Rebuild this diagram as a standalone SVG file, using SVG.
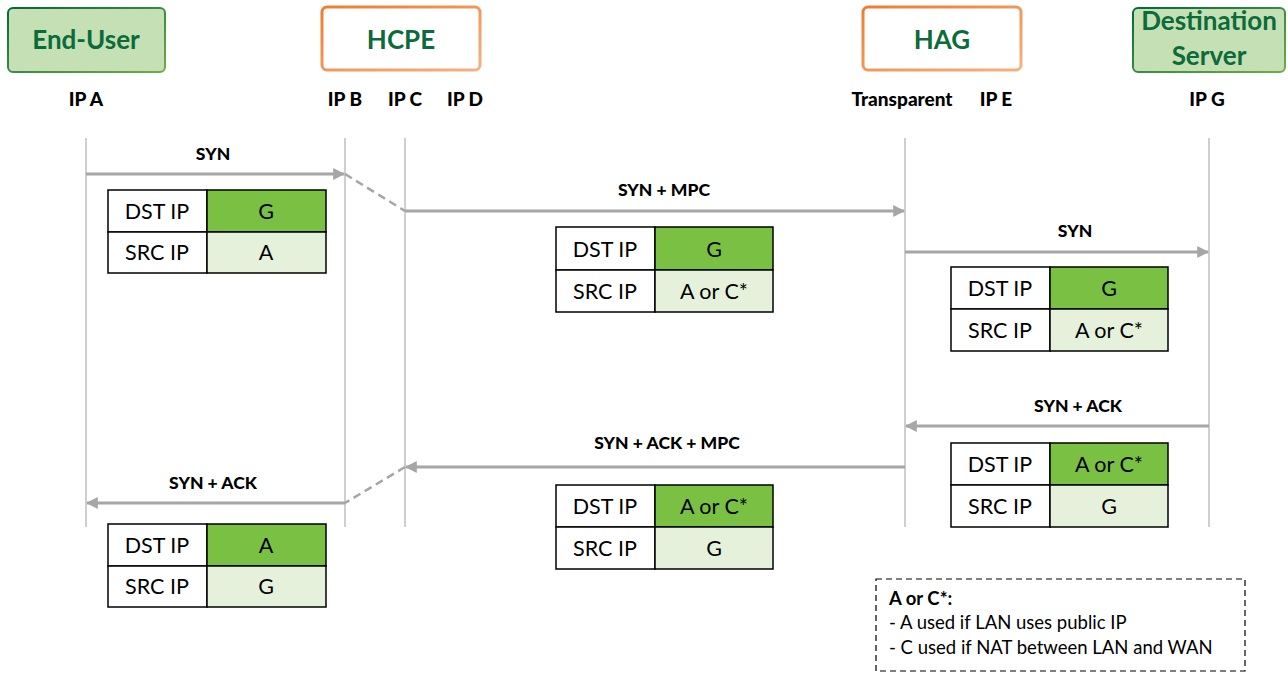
<svg xmlns="http://www.w3.org/2000/svg" width="1288" height="673" viewBox="0 0 1288 673">
  <defs>
    <linearGradient id="greenEdge" x1="0" y1="0" x2="1" y2="1">
      <stop offset="0" stop-color="#006a3a"/>
      <stop offset="1" stop-color="#70ad47"/>
    </linearGradient>
    <linearGradient id="orangeEdge" x1="0" y1="0" x2="1" y2="1">
      <stop offset="0" stop-color="#ed7d31"/>
      <stop offset="1" stop-color="#f4b183"/>
    </linearGradient>
    <marker id="arrow" viewBox="0 0 10 10" refX="9" refY="5" markerWidth="4" markerHeight="4" orient="auto-start-reverse" markerUnits="strokeWidth">
      <path d="M0,0 L10,5 L0,10 z" fill="#a6a6a6"/>
    </marker>
    <style>
      .node-green { fill: #c5e0b4; stroke: url(#greenEdge); stroke-width: 2; }
      .node-orange { fill: #ffffff; stroke: url(#orangeEdge); stroke-width: 3; }
      .title { font-family: Lato, "Liberation Sans", sans-serif; font-weight: bold; font-size: 26px; fill: #0b6b3a; text-anchor: middle; }
      .ip { font-family: Lato, "Liberation Sans", sans-serif; font-weight: 900; font-size: 19px; fill: #000; text-anchor: middle; }
      .life { stroke: #bfbfbf; stroke-width: 1.5; fill: none; }
      .msg { stroke: #a6a6a6; stroke-width: 3; fill: none; }
      .dash { stroke: #a6a6a6; stroke-width: 2.5; stroke-dasharray: 8 5; fill: none; }
      .lbl { font-family: Lato, "Liberation Sans", sans-serif; font-weight: 900; font-size: 17.5px; fill: #000; text-anchor: middle; }
      .cell { stroke: #000; stroke-width: 1.5; }
      .key { fill: #ffffff; }
      .dst { fill: #7ac143; }
      .src { fill: #e6f1dc; }
      .ct { font-family: Lato, "Liberation Sans", sans-serif; font-size: 21.5px; fill: #000; text-anchor: middle; }
      .legend { fill: #fff; stroke: #000; stroke-width: 1.2; stroke-dasharray: 6 4; }
      .lt { font-family: Lato, "Liberation Sans", sans-serif; font-size: 18.5px; fill: #000; }
    </style>
  </defs>

  <!-- participants -->
  <g id="end-user">
    <rect class="node-green" x="8" y="8" width="157" height="64" rx="5"/>
    <text class="title" x="86" y="49">End-User</text>
    <text class="ip" x="86" y="106">IP A</text>
  </g>
  <g id="hcpe">
    <rect class="node-orange" x="322" y="7" width="158" height="63" rx="5"/>
    <text class="title" x="401" y="49">HCPE</text>
    <text class="ip" x="345" y="106">IP B</text>
    <text class="ip" x="405" y="106">IP C</text>
    <text class="ip" x="465" y="106">IP D</text>
  </g>
  <g id="hag">
    <rect class="node-orange" x="863" y="7" width="158" height="63" rx="5"/>
    <text class="title" x="942" y="49">HAG</text>
    <text class="ip" x="902" y="106">Transparent</text>
    <text class="ip" x="996" y="106">IP E</text>
  </g>
  <g id="destination-server">
    <rect class="node-green" x="1133" y="8" width="152" height="64" rx="5"/>
    <text class="title" x="1209" y="30">Destination</text>
    <text class="title" x="1209" y="65">Server</text>
    <text class="ip" x="1207" y="106">IP G</text>
  </g>

  <!-- lifelines -->
  <g id="lifelines">
    <line class="life" x1="86" y1="138" x2="86" y2="527"/>
    <line class="life" x1="345" y1="138" x2="345" y2="527"/>
    <line class="life" x1="405" y1="138" x2="405" y2="527"/>
    <line class="life" x1="905" y1="138" x2="905" y2="527"/>
    <line class="life" x1="1209" y1="138" x2="1209" y2="527"/>
  </g>

  <!-- messages -->
  <g id="connectors">
    <line class="msg" x1="86" y1="174" x2="344" y2="174" marker-end="url(#arrow)"/>
    <line class="dash" x1="345" y1="174" x2="405" y2="211"/>
    <line class="msg" x1="405" y1="211" x2="904" y2="211" marker-end="url(#arrow)"/>
    <line class="msg" x1="905" y1="252" x2="1208" y2="252" marker-end="url(#arrow)"/>
    <line class="msg" x1="1209" y1="426" x2="906" y2="426" marker-end="url(#arrow)"/>
    <line class="msg" x1="905" y1="467" x2="406" y2="467" marker-end="url(#arrow)"/>
    <line class="dash" x1="405" y1="467" x2="345" y2="503"/>
    <line class="msg" x1="345" y1="503" x2="87" y2="503" marker-end="url(#arrow)"/>
  </g>

  <!-- message labels -->
  <g id="message-labels">
    <text class="lbl" x="213" y="160">SYN</text>
    <text class="lbl" x="664" y="196">SYN + MPC</text>
    <text class="lbl" x="1075" y="237">SYN</text>
    <text class="lbl" x="1078" y="412">SYN + ACK</text>
    <text class="lbl" x="667" y="449">SYN + ACK + MPC</text>
    <text class="lbl" x="213" y="489">SYN + ACK</text>
  </g>

  <!-- packet headers -->
  <g id="pkt-1">
    <rect class="cell key" x="108" y="190" width="99" height="42"/>
    <rect class="cell dst" x="207" y="190" width="119" height="42"/>
    <rect class="cell key" x="108" y="232" width="99" height="41"/>
    <rect class="cell src" x="207" y="232" width="119" height="41"/>
    <text class="ct" x="157" y="219">DST IP</text>
    <text class="ct" x="266" y="219">G</text>
    <text class="ct" x="157" y="260">SRC IP</text>
    <text class="ct" x="266" y="260">A</text>
  </g>
  <g id="pkt-2">
    <rect class="cell key" x="556" y="227" width="99" height="43"/>
    <rect class="cell dst" x="655" y="227" width="118" height="43"/>
    <rect class="cell key" x="556" y="270" width="99" height="42"/>
    <rect class="cell src" x="655" y="270" width="118" height="42"/>
    <text class="ct" x="605" y="257">DST IP</text>
    <text class="ct" x="714" y="257">G</text>
    <text class="ct" x="605" y="299">SRC IP</text>
    <text class="ct" x="714" y="299">A or C*</text>
  </g>
  <g id="pkt-3">
    <rect class="cell key" x="951" y="267" width="99" height="42"/>
    <rect class="cell dst" x="1050" y="267" width="118" height="42"/>
    <rect class="cell key" x="951" y="309" width="99" height="42"/>
    <rect class="cell src" x="1050" y="309" width="118" height="42"/>
    <text class="ct" x="1000" y="296">DST IP</text>
    <text class="ct" x="1109" y="296">G</text>
    <text class="ct" x="1000" y="338">SRC IP</text>
    <text class="ct" x="1109" y="338">A or C*</text>
  </g>
  <g id="pkt-4">
    <rect class="cell key" x="951" y="443" width="99" height="42"/>
    <rect class="cell dst" x="1050" y="443" width="118" height="42"/>
    <rect class="cell key" x="951" y="485" width="99" height="42"/>
    <rect class="cell src" x="1050" y="485" width="118" height="42"/>
    <text class="ct" x="1000" y="472">DST IP</text>
    <text class="ct" x="1109" y="472">A or C*</text>
    <text class="ct" x="1000" y="514">SRC IP</text>
    <text class="ct" x="1109" y="514">G</text>
  </g>
  <g id="pkt-5">
    <rect class="cell key" x="556" y="485" width="99" height="42"/>
    <rect class="cell dst" x="655" y="485" width="118" height="42"/>
    <rect class="cell key" x="556" y="527" width="99" height="42"/>
    <rect class="cell src" x="655" y="527" width="118" height="42"/>
    <text class="ct" x="605" y="514">DST IP</text>
    <text class="ct" x="714" y="514">A or C*</text>
    <text class="ct" x="605" y="556">SRC IP</text>
    <text class="ct" x="714" y="556">G</text>
  </g>
  <g id="pkt-6">
    <rect class="cell key" x="108" y="524" width="99" height="42"/>
    <rect class="cell dst" x="207" y="524" width="119" height="42"/>
    <rect class="cell key" x="108" y="566" width="99" height="41"/>
    <rect class="cell src" x="207" y="566" width="119" height="41"/>
    <text class="ct" x="157" y="553">DST IP</text>
    <text class="ct" x="266" y="553">A</text>
    <text class="ct" x="157" y="594">SRC IP</text>
    <text class="ct" x="266" y="594">G</text>
  </g>

  <!-- note -->
  <g id="legend">
    <rect class="legend" x="876" y="579" width="369" height="92"/>
    <text class="lt" x="889" y="605" font-weight="bold">A or C*:</text>
    <text class="lt" x="889" y="629">- A used if LAN uses public IP</text>
    <text class="lt" x="889" y="654">- C used if NAT between LAN and WAN</text>
  </g>
</svg>
